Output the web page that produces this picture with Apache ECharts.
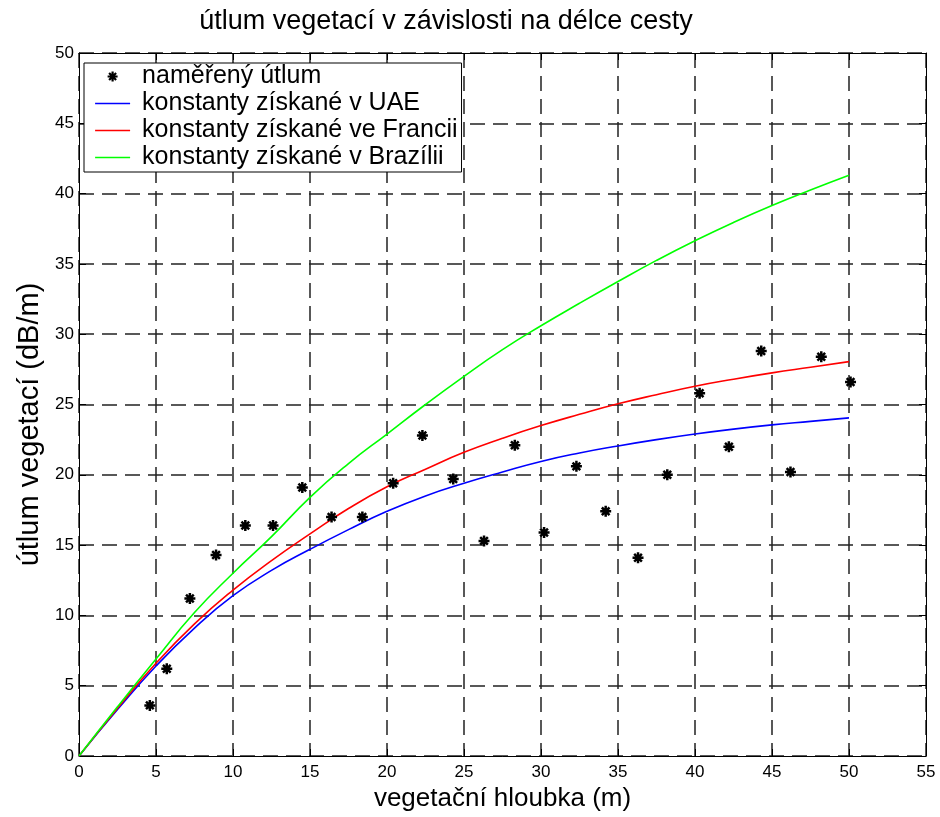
<!DOCTYPE html>
<html>
<head>
<meta charset="utf-8">
<script src="https://cdn.jsdelivr.net/npm/echarts@6/dist/echarts.min.js"></script>
<style>html,body{margin:0;padding:0;background:#fff}#c{width:940px;height:817px}</style>
</head>
<body>
<div id="c"></div>
<script>
var titleText = 'útlum vegetací v závislosti na délce cesty';
var xName = 'vegetační hloubka (m)';
var yName = 'útlum vegetací (dB/m)';
var seriesNames = ['naměřený útlum', 'konstanty získané v UAE', 'konstanty získané ve Francii', 'konstanty získané v Brazílii'];

var measuredDepth = [4.6,5.7,7.2,8.9,10.8,12.6,14.5,16.4,18.4,20.4,22.3,24.3,26.3,28.3,30.2,32.3,34.2,36.3,38.2,40.3,42.2,44.3,46.2,48.2,50.1];
var measuredLoss  = [3.6,6.2,11.2,14.3,16.4,16.4,19.1,17.0,17.0,19.4,22.8,19.7,15.3,22.1,15.9,20.6,17.4,14.1,20.0,25.8,22.0,28.8,20.2,28.4,26.6];

var curveDepth = [0,2.5,5,7.5,10,12.5,15,17.5,20,22.5,25,27.5,30,32.5,35,37.5,40,42.5,45,47.5,50];
var uaeLoss    = [0,3.3,6.4,9.1,11.4,13.2,14.7,16.1,17.4,18.5,19.4,20.2,20.95,21.55,22.05,22.5,22.9,23.25,23.55,23.8,24.05];
var franceLoss = [0,3.4,6.6,9.4,11.8,13.9,15.8,17.6,19.15,20.4,21.6,22.6,23.5,24.3,25.05,25.7,26.3,26.8,27.25,27.65,28.05];
var brazilLoss = [0,3.5,6.9,10.2,13.0,15.6,18.4,20.8,22.9,25.0,27.0,28.9,30.6,32.2,33.75,35.25,36.65,37.95,39.15,40.25,41.3];

function pairs(xs, ys){ return xs.map(function(x,i){ return [x, ys[i]]; }); }

var FONT = 'Liberation Sans, Arial, sans-serif';
var star = 'path://M5 0L5 10M0 5L10 5M1.5 1.5L8.5 8.5M8.5 1.5L1.5 8.5';
var lineIcon = 'path://M0 0M0 14M0 6.2H35V7.8H0Z';
var starIcon = 'path://M0 0M35 14M17.5 2L17.5 12M12.5 7L22.5 7M14 3.5L21 10.5M21 3.5L14 10.5';

var chart = echarts.init(document.getElementById('c'));
var gridLine = {show:true, lineStyle:{color:'#222', width:1.5, type:[15,8]}};
var lineColors = ['#0000ff', '#ff0000', '#00ff00'];
chart.setOption({
  animation:false,
  backgroundColor:'#fff',
  title:{text:titleText, left:441, top:3, textAlign:'center',
    textStyle:{fontFamily:FONT, fontSize:27, fontWeight:'normal', color:'#000'}},
  legend:{
    orient:'vertical', left:84, top:63, backgroundColor:'#fff',
    borderColor:'#000', borderWidth:1, borderRadius:0,
    padding:[1,4,2,10], itemGap:2, itemWidth:35, itemHeight:14,
    textStyle:{fontFamily:FONT, fontSize:25, color:'#000', lineHeight:24, padding:[0,0,0,7]},
    data:[
      {name:seriesNames[0], icon:starIcon, itemStyle:{color:'#000', borderColor:'#000', borderWidth:2.2}},
      {name:seriesNames[1], icon:lineIcon, itemStyle:{color:lineColors[0], borderWidth:0}},
      {name:seriesNames[2], icon:lineIcon, itemStyle:{color:lineColors[1], borderWidth:0}},
      {name:seriesNames[3], icon:lineIcon, itemStyle:{color:lineColors[2], borderWidth:0}}
    ]
  },
  grid:{left:79, right:14, top:53, bottom:60, containLabel:false},
  xAxis:[{
    type:'value', min:0, max:55, interval:5, position:'bottom',
    name:xName, nameLocation:'middle', nameGap:30,
    nameTextStyle:{fontFamily:FONT, fontSize:26, color:'#000'},
    axisLine:{onZero:false, lineStyle:{color:'#000', width:1}},
    axisTick:{inside:true, length:7, lineStyle:{color:'#000'}},
    axisLabel:{fontFamily:FONT, fontSize:17, color:'#000', margin:8},
    splitLine:gridLine
  },{
    type:'value', min:0, max:55, interval:5, position:'top',
    axisLine:{onZero:false, lineStyle:{color:'#000', width:1}},
    axisTick:{inside:true, length:7, lineStyle:{color:'#000'}},
    axisLabel:{show:false}, splitLine:{show:false}
  }],
  yAxis:[{
    type:'value', min:0, max:50, interval:5, position:'left',
    name:yName, nameLocation:'middle', nameGap:35,
    nameTextStyle:{fontFamily:FONT, fontSize:29, color:'#000', padding:[0,40,0,0]},
    axisLine:{onZero:false, lineStyle:{color:'#000', width:1}},
    axisTick:{inside:true, length:7, lineStyle:{color:'#000'}},
    axisLabel:{fontFamily:FONT, fontSize:17, color:'#000', margin:5},
    splitLine:gridLine
  },{
    type:'value', min:0, max:50, interval:5, position:'right',
    axisLine:{onZero:false, lineStyle:{color:'#000', width:1}},
    axisTick:{inside:true, length:7, lineStyle:{color:'#000'}},
    axisLabel:{show:false}, splitLine:{show:false}
  }],
  series:[
    {name:seriesNames[0], type:'scatter', data:pairs(measuredDepth, measuredLoss),
     symbol:star, symbolSize:11, symbolKeepAspect:true, z:5,
     itemStyle:{color:'#000', borderColor:'#000', borderWidth:2.5, opacity:1}},
    {name:seriesNames[1], type:'line', data:pairs(curveDepth, uaeLoss), smooth:true,
     symbol:'none', lineStyle:{color:lineColors[0], width:1.6}, itemStyle:{color:lineColors[0]}},
    {name:seriesNames[2], type:'line', data:pairs(curveDepth, franceLoss), smooth:true,
     symbol:'none', lineStyle:{color:lineColors[1], width:1.6}, itemStyle:{color:lineColors[1]}},
    {name:seriesNames[3], type:'line', data:pairs(curveDepth, brazilLoss), smooth:true,
     symbol:'none', lineStyle:{color:lineColors[2], width:1.6}, itemStyle:{color:lineColors[2]}}
  ]
});
</script>
</body>
</html>
